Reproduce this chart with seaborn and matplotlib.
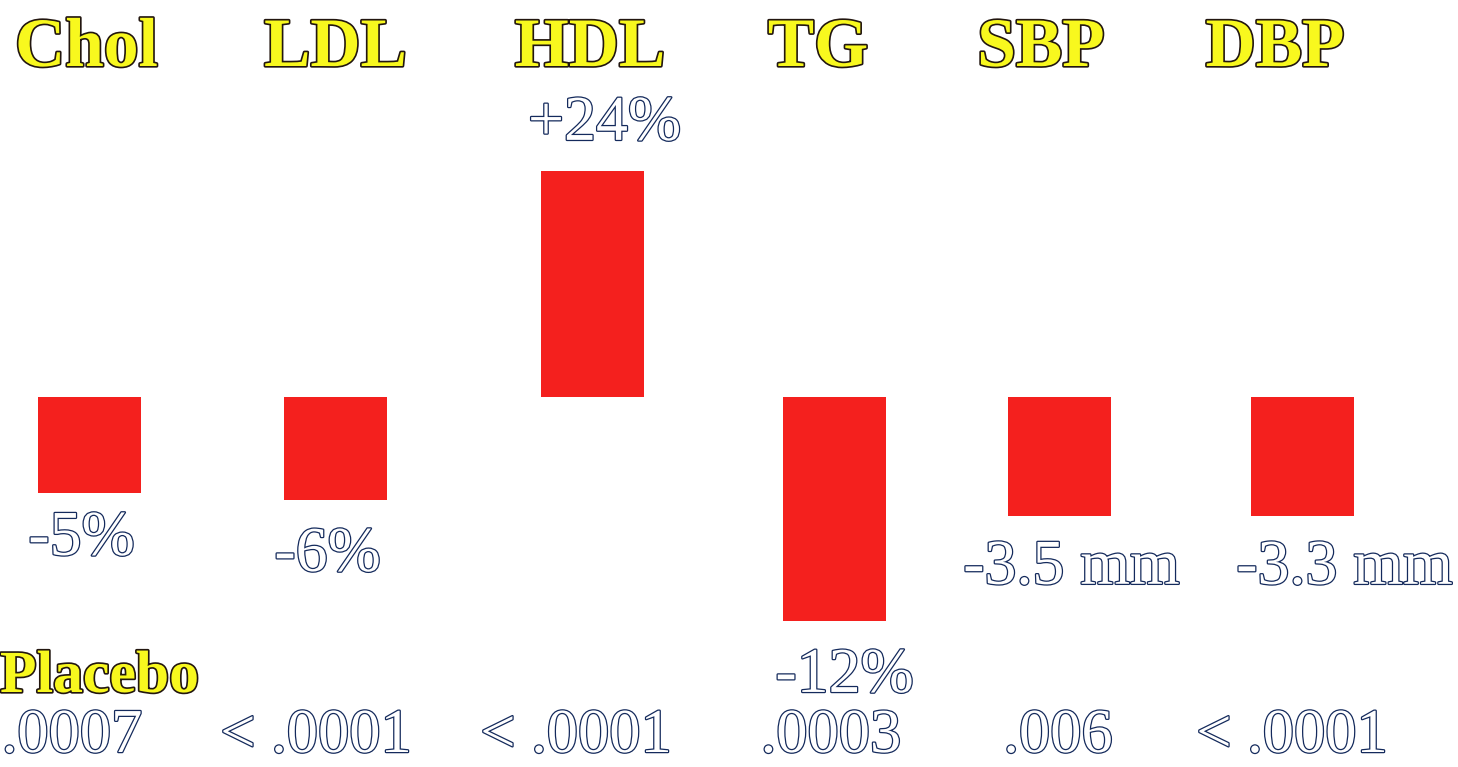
import matplotlib
matplotlib.use("Agg")
import matplotlib.pyplot as plt
import matplotlib.patheffects as pe
import numpy as np
import pandas as pd
import seaborn as sns

# Change from baseline for each measure, with its unit and p-value
categories = ["Chol", "LDL", "HDL", "TG", "SBP", "DBP"]
changes = [-5, -6, 24, -12, -3.5, -3.3]
units = ["%", "%", "%", "%", " mm", " mm"]
p_values = [".0007", "< .0001", "< .0001", ".0003", ".006", "< .0001"]
group_label = "Placebo"

df = pd.DataFrame({"measure": categories, "change": changes, "unit": units})

# ---- layout (pixels on a 1458 x 767 canvas) ----
W, H = 1458, 767
DPI = 100
baseline_px = 397                      # zero line, from top
bar_centers = [89.5, 335.5, 592.5, 834.5, 1059.5, 1302.5]
bar_px = 103                           # bar width
panel_span = [40.0, 44.7, 81.4, 41.1, 22.6, 21.3]   # units across full height
label_offsets = [(-8, -62), (-8, -71), (12, 31), (10, -71), (12, -68), (42, -68)]
header_x = [86.5, 335.5, 590, 818, 1041, 1275]
header_base = 66
p_x = [72, 316, 576, 831, 1058, 1292]

RED = "#F4201E"
YELLOW = "#F8F81E"
DARK = "#22160f"
NAVY = "#142a5c"

serif = ["Liberation Serif", "DejaVu Serif"]

sns.set_theme(style="white")
plt.rcParams["font.family"] = serif

fig = plt.figure(figsize=(W / DPI, H / DPI), dpi=DPI)
fig.patch.set_facecolor("white")

head_fx = [pe.withStroke(linewidth=2.4, foreground=DARK)]
val_fx = [pe.withStroke(linewidth=1.8, foreground=NAVY)]

f0 = (H - baseline_px) / H
panel_w = 2 * bar_px
for i, row in df.iterrows():
    left = (bar_centers[i] - panel_w / 2) / W
    ax = fig.add_axes([left, 0, panel_w / W, 1])
    sns.barplot(data=df.iloc[[i]], x="measure", y="change", ax=ax,
                color=RED, width=1.0, errorbar=None, saturation=1,
                edgecolor="none")
    ax.set_xlim(-1, 1)
    span = panel_span[i]
    ax.set_ylim(-f0 * span, (1 - f0) * span)
    ax.axis("off")
    v = row["change"]
    dx, dy = label_offsets[i]
    ax.annotate(f"{v:+g}{row['unit']}", xy=(0, v), xytext=(dx, dy),
                textcoords="offset pixels", ha="center", va="baseline",
                fontsize=46, color="white", path_effects=val_fx,
                family=serif)

# Measure headers
for name, x in zip(categories, header_x):
    fig.text(x / W, 1 - header_base / H, name, ha="center", va="baseline",
             fontsize=50, fontweight="bold", color=YELLOW,
             path_effects=head_fx, family=serif)

# Group label and p-values
fig.text(0 / W, 1 - 692 / H, group_label, ha="left", va="baseline",
         fontsize=43, fontweight="bold", color=YELLOW,
         path_effects=head_fx, family=serif)
for p, x in zip(p_values, p_x):
    fig.text(x / W, 1 / H, p, ha="center", va="bottom",
             fontsize=45, color="white", path_effects=val_fx, family=serif)

fig.savefig("out.png", dpi=DPI, facecolor="white")
